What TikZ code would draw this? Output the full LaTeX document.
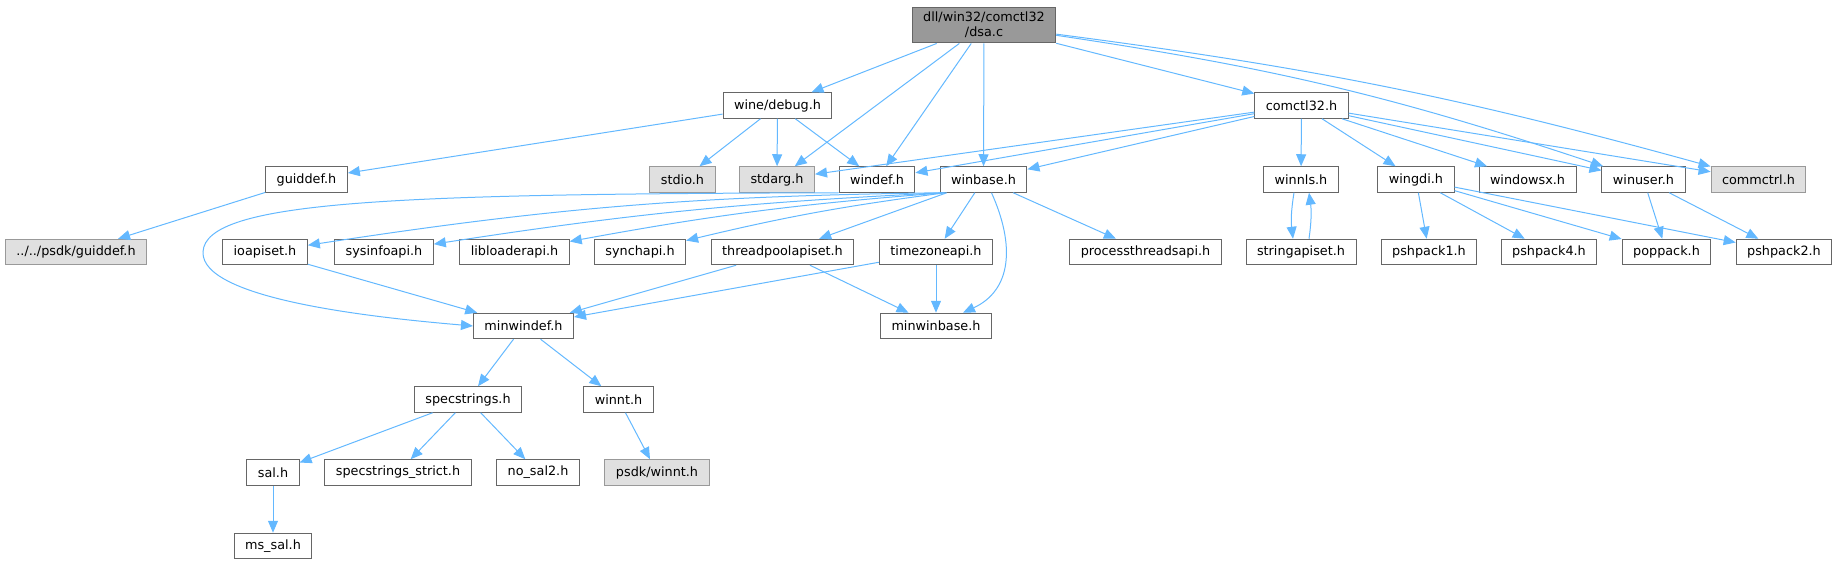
\documentclass[tikz,border=0pt]{standalone}
\usepackage{fontspec}
\setmainfont{DejaVu Sans}
\usetikzlibrary{arrows.meta}
\definecolor{edgeblue}{HTML}{63B8FF}
\definecolor{boxline}{HTML}{666666}
\definecolor{extline}{HTML}{999999}
\definecolor{extfill}{HTML}{E0E0E0}
\definecolor{rootfill}{HTML}{999999}

\begin{document}
\begin{tikzpicture}[x=1pt,y=-1pt,
    file/.style={draw=boxline,fill=white,line width=1pt,minimum height=25.5pt,inner xsep=11pt,inner ysep=5pt,font=\fontsize{12.8}{15}\selectfont},
    extfile/.style={file,draw=extline,fill=extfill},
    rootfile/.style={file,fill=rootfill,align=center},
    inc/.style={edgeblue,line width=1pt,-{Triangle[length=12pt,width=10pt]}}]
      \useasboundingbox (0,0) rectangle (1837,564);
      \node[rootfile] (dsa) at (984,25) {dll/win32/comctl32\\/dsa.c};
      \node[file] (winedebug) at (777.5,105.5) {wine/debug.h};
      \node[file] (comctl) at (1301.5,105.5) {comctl32.h};
      \node[file] (guiddef) at (306.5,179.5) {guiddef.h};
      \node[extfile] (stdio) at (682.5,179.5) {stdio.h};
      \node[extfile] (stdarg) at (777,179.5) {stdarg.h};
      \node[file] (windef) at (877,179.5) {windef.h};
      \node[file] (winbase) at (983.5,179.5) {winbase.h};
      \node[file] (winnls) at (1301,179.5) {winnls.h};
      \node[file] (wingdi) at (1416,179.5) {wingdi.h};
      \node[file] (windowsx) at (1527.5,179.5) {windowsx.h};
      \node[file] (winuser) at (1643.5,179.5) {winuser.h};
      \node[extfile] (commctrl) at (1758.5,179.5) {commctrl.h};
      \node[extfile] (psdkguiddef) at (76,252) {../../psdk/guiddef.h};
      \node[file] (ioapiset) at (265,252) {ioapiset.h};
      \node[file] (sysinfoapi) at (384,252) {sysinfoapi.h};
      \node[file] (libloaderapi) at (514.5,252) {libloaderapi.h};
      \node[file] (synchapi) at (640,252) {synchapi.h};
      \node[file] (threadpool) at (782.5,252) {threadpoolapiset.h};
      \node[file] (timezone) at (936,252) {timezoneapi.h};
      \node[file] (procthreads) at (1145.5,252) {processthreadsapi.h};
      \node[file] (stringapiset) at (1301,252) {stringapiset.h};
      \node[file] (pshpackone) at (1429,252) {pshpack1.h};
      \node[file] (pshpackfour) at (1549,252) {pshpack4.h};
      \node[file] (poppack) at (1666.5,252) {poppack.h};
      \node[file] (pshpacktwo) at (1784,252) {pshpack2.h};
      \node[file] (minwindef) at (523.5,326) {minwindef.h};
      \node[file] (minwinbase) at (936,326) {minwinbase.h};
      \node[file] (specstrings) at (468,399.5) {specstrings.h};
      \node[file] (winnt) at (618.5,399.5) {winnt.h};
      \node[file] (sal) at (273,472.5) {sal.h};
      \node[file] (strict) at (398,472.5) {specstrings\_strict.h};
      \node[file] (nosal) at (538,472.5) {no\_sal2.h};
      \node[extfile] (psdkwinnt) at (657,472.5) {psdk/winnt.h};
      \node[file] (mssal) at (273,546) {ms\_sal.h};
      \draw[inc] (dsa) -- (winedebug);
      \draw[inc] (dsa) -- (stdarg);
      \draw[inc] (dsa) -- (windef);
      \draw[inc] (dsa) -- (winbase);
      \draw[inc] (dsa) -- (comctl);
      \draw[inc] (dsa) to[bend left=5] (winuser);
      \draw[inc] (dsa) to[bend left=4] (commctrl);
      \draw[inc] (winedebug) -- (guiddef);
      \draw[inc] (winedebug) -- (stdio);
      \draw[inc] (winedebug) -- (stdarg);
      \draw[inc] (winedebug) -- (windef);
      \draw[inc] (guiddef) -- (psdkguiddef);
      \draw[inc] (comctl) -- (stdarg);
      \draw[inc] (comctl) -- (windef);
      \draw[inc] (comctl) -- (winbase);
      \draw[inc] (comctl) -- (winnls);
      \draw[inc] (comctl) -- (wingdi);
      \draw[inc] (comctl) -- (windowsx);
      \draw[inc] (comctl) -- (winuser);
      \draw[inc] (comctl) -- (commctrl);
      \draw[inc] (windef.south west) .. controls (400,194) and (205,200) .. (203,252) .. controls (201,300) and (380,318) .. (minwindef.west);
      \draw[inc] ([xshift=3pt]winbase.south west) to[bend right=4] (ioapiset);
      \draw[inc] ([xshift=4pt]winbase.south west) to[bend right=3] (sysinfoapi);
      \draw[inc] ([xshift=5pt]winbase.south west) to[bend right=3] (libloaderapi);
      \draw[inc] ([xshift=6pt]winbase.south west) to[bend right=3] (synchapi);
      \draw[inc] (winbase) -- (threadpool);
      \draw[inc] (winbase) -- (timezone);
      \draw[inc] (winbase) -- (procthreads);
      \draw[inc] ([xshift=8pt]winbase.south) .. controls (1015,245) and (1012,290) .. ([xshift=27pt]minwinbase.north);
      \draw[inc] (ioapiset) -- (minwindef);
      \draw[inc] (threadpool) -- (minwindef);
      \draw[inc] (threadpool) -- (minwinbase);
      \draw[inc] (timezone) -- (minwindef);
      \draw[inc] (timezone) -- (minwinbase);
      \draw[inc] ([xshift=-7pt]winnls.south) to[bend right=8] ([xshift=-8pt]stringapiset.north);
      \draw[inc] ([xshift=8pt]stringapiset.north) to[bend right=8] ([xshift=8pt]winnls.south);
      \draw[inc] (wingdi) -- (pshpackone);
      \draw[inc] (wingdi) -- (pshpackfour);
      \draw[inc] (wingdi) -- (poppack);
      \draw[inc] (wingdi) -- (pshpacktwo);
      \draw[inc] (winuser) -- (poppack);
      \draw[inc] (winuser) -- (pshpacktwo);
      \draw[inc] (minwindef) -- (specstrings);
      \draw[inc] (minwindef) -- (winnt);
      \draw[inc] (specstrings) -- (sal);
      \draw[inc] (specstrings) -- (strict);
      \draw[inc] (specstrings) -- (nosal);
      \draw[inc] (winnt) -- (psdkwinnt);
      \draw[inc] (sal) -- (mssal);
    \end{tikzpicture}
\end{document}
